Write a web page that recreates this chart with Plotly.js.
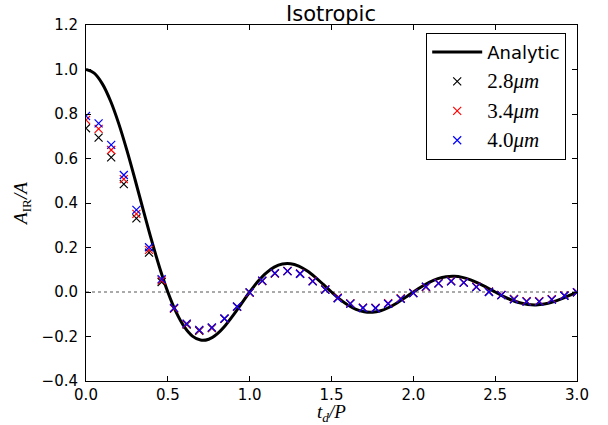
<!DOCTYPE html>
<html>
<head>
<meta charset="utf-8">
<script src="https://cdn.plot.ly/plotly-3.0.1.min.js"></script>
<style>html,body{margin:0;padding:0;background:#fff}</style>
</head>
<body>
<div id="chart" style="width:608px;height:425px"></div>
<script>
// Analytic curve
const analyticX = [0.00,0.05,0.10,0.15,0.20,0.25,0.30,0.35,0.40,0.45,0.50,0.55,0.60,0.65,0.70,0.75,0.80,0.85,0.90,0.95,
  1.00,1.05,1.10,1.15,1.20,1.25,1.30,1.35,1.40,1.45,1.50,1.55,1.60,1.65,1.70,1.75,1.80,1.85,1.90,1.95,
  2.00,2.05,2.10,2.15,2.20,2.25,2.30,2.35,2.40,2.45,2.50,2.55,2.60,2.65,2.70,2.75,2.80,2.85,2.90,2.95,3.00];
const analyticY = [1.0000,0.9836,0.9355,0.8584,0.7568,0.6366,0.5046,0.3679,0.2339,0.1093,
  0.0000,-0.0894,-0.1559,-0.1981,-0.2162,-0.2122,-0.1892,-0.1515,-0.1039,-0.0518,
  0.0000,0.0468,0.0851,0.1120,0.1261,0.1273,0.1164,0.0954,0.0668,0.0339,
  0.0000,-0.0317,-0.0585,-0.0780,-0.0890,-0.0909,-0.0841,-0.0696,-0.0492,-0.0252,
  0.0000,0.0240,0.0446,0.0599,0.0688,0.0707,0.0658,0.0548,0.0390,0.0201,
  0.0000,-0.0193,-0.0360,-0.0486,-0.0561,-0.0579,-0.0541,-0.0452,-0.0323,-0.0167,0.0000];

// Sampled series
const sampleX = [0.000,0.077,0.154,0.231,0.308,0.385,0.462,0.538,0.615,0.692,
  0.769,0.846,0.923,1.000,1.077,1.154,1.231,1.308,1.385,1.462,
  1.538,1.615,1.692,1.769,1.846,1.923,2.000,2.077,2.154,2.231,
  2.308,2.385,2.462,2.538,2.615,2.692,2.769,2.846,2.923,3.000];
const y28 = [0.736,0.694,0.605,0.485,0.331,0.177,0.045,-0.075,-0.146,-0.174,
  -0.162,-0.121,-0.067,-0.003,0.049,0.083,0.094,0.082,0.049,0.011,
  -0.027,-0.052,-0.071,-0.072,-0.052,-0.030,-0.005,0.023,0.039,0.049,
  0.042,0.023,0.001,-0.014,-0.032,-0.042,-0.042,-0.033,-0.016,-0.002];
const y34 = [0.773,0.733,0.638,0.507,0.351,0.189,0.052,-0.073,-0.144,-0.172,
  -0.161,-0.120,-0.066,-0.003,0.050,0.084,0.095,0.083,0.050,0.012,
  -0.026,-0.051,-0.070,-0.071,-0.050,-0.029,-0.004,0.022,0.040,0.050,
  0.043,0.024,0.002,-0.013,-0.031,-0.041,-0.041,-0.032,-0.015,-0.001];
const y40 = [0.791,0.758,0.661,0.526,0.369,0.201,0.058,-0.071,-0.142,-0.170,
  -0.159,-0.119,-0.065,-0.002,0.051,0.085,0.094,0.082,0.048,0.011,
  -0.028,-0.052,-0.072,-0.073,-0.053,-0.031,-0.005,0.024,0.039,0.048,
  0.042,0.022,0.000,-0.014,-0.033,-0.043,-0.043,-0.034,-0.017,-0.002];

const serif = 'Liberation Serif';
const sans = '"DejaVu Sans", sans-serif';
const mathName = s => '<span style="font-family:' + serif + ';font-size:21px">' + s + '</span>';
const seriesNames = ['Analytic', mathName('2.8<i>μm</i>'), mathName('3.4<i>μm</i>'), mathName('4.0<i>μm</i>')];
const seriesColors = ['#000000','#000000','#ff0000','#0000ff'];
const seriesY = [y28, y34, y40];

const traces = [{
  x: analyticX, y: analyticY, type: 'scatter', mode: 'lines',
  line: {color: seriesColors[0], width: 3, shape: 'spline'},
  name: seriesNames[0], legendgroup: 'g0'
}];
seriesY.forEach((ys, i) => {
  traces.push({
    x: sampleX, y: ys, type: 'scatter', mode: 'markers',
    marker: {symbol: 'x-thin', size: 8, color: seriesColors[i+1],
             line: {color: seriesColors[i+1], width: 1.2}},
    name: seriesNames[i+1], legendgroup: 'g' + (i+1)
  });
});

const layout = {
  width: 608, height: 425,
  margin: {l: 86, r: 31, t: 25, b: 44},
  paper_bgcolor: '#ffffff', plot_bgcolor: '#ffffff',
  font: {family: sans, size: 15, color: '#000'},
  title: {text: 'Isotropic', font: {family: sans, size: 21, color: '#000'},
          x: 331/608, xanchor: 'center', xref: 'container',
          y: 1 - 21/425, yanchor: 'bottom', yref: 'container'},
  showlegend: true,
  legend: {x: 0.978, xanchor: 'right', y: 0.978, yanchor: 'top',
           bordercolor: '#000', borderwidth: 1, bgcolor: '#fff',
           font: {family: sans, size: 18, color: '#000'},
           tracegroupgap: 3, itemwidth: 50},
  xaxis: {
    range: [0, 3], dtick: 0.5, tick0: 0, tickformat: '.1f',
    ticks: 'inside', ticklen: 5, tickcolor: '#000', tickwidth: 1,
    showline: true, linecolor: '#000', linewidth: 1, mirror: 'ticks',
    showgrid: false, zeroline: false,
    tickfont: {family: sans, size: 15, color: '#000'},
    ticklabelstandoff: 0,
    title: {text: '<i>t</i><sub><i>d</i></sub><i>/P</i>', font: {family: serif, size: 19, color: '#000'}, standoff: 8}
  },
  yaxis: {
    range: [-0.4, 1.2], dtick: 0.2, tick0: 0, tickformat: '.1f',
    ticks: 'inside', ticklen: 5, tickcolor: '#000', tickwidth: 1,
    showline: true, linecolor: '#000', linewidth: 1, mirror: 'ticks',
    showgrid: false, zeroline: false,
    tickfont: {family: sans, size: 15, color: '#000'},
    ticklabelstandoff: 4,
    title: {text: '<i>A</i><sub>IR</sub><i>/A</i>', font: {family: serif, size: 19, color: '#000'}, standoff: 8}
  },
  shapes: [{type: 'line', xref: 'paper', x0: 0, x1: 1, yref: 'y', y0: 0, y1: 0,
            line: {color: '#555', width: 1, dash: 'dot'}, layer: 'below'}]
};

Plotly.newPlot('chart', traces, layout, {displayModeBar: false, staticPlot: true});
</script>
</body>
</html>
